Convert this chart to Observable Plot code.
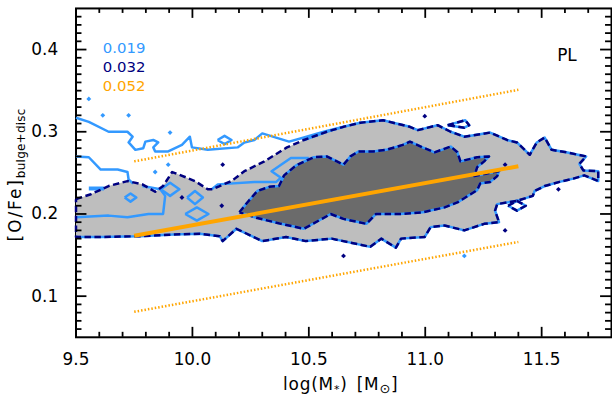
<!DOCTYPE html>
<html><head><meta charset="utf-8">
<script src="https://cdn.jsdelivr.net/npm/d3@7"></script>
<script src="https://cdn.jsdelivr.net/npm/@observablehq/plot@0.6"></script>
<style>
body{margin:0;background:#fff;}
#wrap{width:612px;height:400px;overflow:hidden;}
</style></head><body><div id="wrap"></div>
<script>
// ---- tick values ----
const xMajor = [9.5, 10.0, 10.5, 11.0, 11.5];
const xMinor = [9.6,9.7,9.8,9.9,10.1,10.2,10.3,10.4,10.6,10.7,10.8,10.9,11.1,11.2,11.3,11.4,11.6,11.7];
const yMajor = [0.1, 0.2, 0.3, 0.4];
const yMinor = d3.range(6, 45).map(d => d / 100).filter(v => Math.round(v * 100) % 10 !== 0);

// ---- contour levels & labels ----
const levelLabels = ["0.019", "0.032", "0.052"];
const panelLabel = ["PL"];

// ---- contour polygons (log M*, [O/Fe]) ----
const outerContour = [
  [9.500,0.218],[9.564,0.224],[9.640,0.234],[9.721,0.240],[9.785,0.236],[9.840,0.227],[9.874,0.234],
  [9.913,0.251],[9.968,0.245],[10.011,0.240],[10.066,0.230],[10.087,0.230],[10.117,0.234],[10.168,0.240],
  [10.223,0.252],[10.309,0.264],[10.406,0.281],[10.479,0.290],[10.577,0.300],[10.649,0.306],[10.721,0.311],
  [10.819,0.314],[10.862,0.311],[10.934,0.306],[10.968,0.302],[11.053,0.308],[11.109,0.300],[11.168,0.294],
  [11.215,0.296],[11.279,0.299],[11.351,0.290],[11.394,0.287],[11.449,0.272],[11.479,0.287],[11.513,0.293],
  [11.543,0.278],[11.606,0.275],[11.691,0.270],[11.662,0.261],[11.679,0.253],[11.743,0.252],[11.743,0.240],
  [11.683,0.247],[11.636,0.243],[11.577,0.239],[11.513,0.234],[11.470,0.228],[11.462,0.222],[11.394,0.216],
  [11.309,0.212],[11.300,0.204],[11.317,0.190],[11.253,0.188],[11.168,0.180],[11.083,0.186],[11.023,0.184],
  [10.998,0.172],[10.896,0.170],[10.874,0.159],[10.811,0.170],[10.764,0.160],[10.598,0.170],[10.487,0.167],
  [10.402,0.172],[10.300,0.167],[10.189,0.182],[10.130,0.167],[10.117,0.173],[10.032,0.176],[9.917,0.175],
  [9.777,0.173],[9.606,0.172],[9.500,0.172]
];
const innerContour = [
  [10.202,0.202],[10.236,0.214],[10.279,0.228],[10.330,0.233],[10.372,0.234],[10.394,0.247],[10.445,0.259],
  [10.521,0.269],[10.577,0.270],[10.649,0.260],[10.679,0.270],[10.713,0.276],[10.777,0.276],[10.832,0.278],
  [10.904,0.284],[10.934,0.288],[10.989,0.281],[11.040,0.275],[11.109,0.282],[11.138,0.275],[11.151,0.264],
  [11.223,0.269],[11.274,0.270],[11.253,0.264],[11.223,0.257],[11.211,0.246],[11.296,0.251],[11.317,0.252],
  [11.309,0.246],[11.279,0.239],[11.236,0.237],[11.223,0.229],[11.138,0.214],[11.083,0.208],[10.989,0.202],
  [10.891,0.200],[10.789,0.200],[10.747,0.188],[10.649,0.194],[10.594,0.200],[10.479,0.182],[10.381,0.188],
  [10.279,0.195]
];
// open 0.019 contour pieces
const blueUpper = [
  [9.500,0.317],[9.555,0.312],[9.640,0.300],[9.721,0.300],[9.743,0.294],[9.726,0.287],[9.755,0.278],
  [9.789,0.280],[9.798,0.288],[9.832,0.290],[9.853,0.287],[9.832,0.281],[9.840,0.276],[9.896,0.276],
  [9.955,0.284],[9.989,0.294],[9.998,0.281],[10.066,0.278],[10.194,0.281],[10.223,0.287],[10.266,0.290],
  [10.300,0.298],[10.415,0.288],[10.479,0.293],[10.564,0.300],[10.649,0.306]
];
const blueSecond = [
  [9.500,0.270],[9.555,0.269],[9.606,0.254],[9.679,0.254],[9.721,0.251],[9.726,0.242],[9.745,0.237]
];
const blueLeftLoop = [
  [9.500,0.196],[9.640,0.198],[9.721,0.196],[9.811,0.200],[9.874,0.200],[9.883,0.222],[9.862,0.230],[9.785,0.234]
];
const blueMiddle = [
  [10.083,0.230],[10.109,0.236],[10.266,0.239],[10.360,0.239],[10.380,0.244],[10.340,0.252],[10.423,0.268],[10.500,0.268]
];
const blueBar = [[9.555,0.231],[9.620,0.231]];
const blueLoops = [
  [[9.709,0.220],[9.734,0.225],[9.759,0.220],[9.734,0.215]],
  [[9.864,0.230],[9.904,0.238],[9.944,0.230],[9.904,0.222]],
  [[9.977,0.220],[10.011,0.228],[10.045,0.220],[10.011,0.212]],
  [[9.969,0.200],[10.019,0.208],[10.069,0.200],[10.019,0.192]],
  [[10.108,0.290],[10.138,0.295],[10.168,0.290],[10.138,0.285]]
];
const sharedLoops = [
  [[11.096,0.308],[11.172,0.314],[11.189,0.308],[11.168,0.305]],
  [[11.356,0.210],[11.394,0.216],[11.432,0.210],[11.394,0.204]]
];
const navyDots = [
  [10.130,0.260],[10.998,0.319],[10.649,0.149],[11.343,0.260],[11.572,0.230],[11.343,0.180],
  [9.955,0.220],[10.126,0.210]
];
const blueDots = [
  [9.555,0.340],[9.615,0.320],[9.726,0.320],[9.904,0.299],[9.896,0.260],[9.840,0.251],[11.168,0.149]
];
// ---- fit lines ----
const fitX = [9.75, 11.4];
const fitMid = [0.1735, 0.258];
const fitHigh = [0.264, 0.351];
const fitLow = [0.081, 0.166];

// ---- styles ----
const LBLUE = "#3399ff", NAVY = "#000080", ORANGE = "#ffa500", LGRAY = "#bebebe", DGRAY = "#6b6b6b";
const FONT = "DejaVu Sans";
const W = 616, H = 400, ML = 76, MR = 1, MT = 8, MB = 61;
const FW = W - ML - MR, FH = H - MT - MB;

const closed = p => [...p, p[0]];
const ln = (data, o) => Plot.line(data, {x: d => d[0], y: d => d[1], strokeLinejoin: "round", strokeLinecap: "butt", ...o});
const fitData = ys => fitX.map((x, i) => [x, ys[i]]);
const blueStart = outerContour.findIndex(p => p[0] >= 10.47 && p[1] >= 0.285);
const DASH = {stroke: NAVY, strokeWidth: 2.5, strokeDasharray: "6.5,3.5"};
const TK = {stroke: "black", strokeWidth: 1.8};

const marks = [
  Plot.frame({stroke: "black", strokeWidth: 2}),
  ln(closed(outerContour), {fill: LGRAY, stroke: "none"}),
  ln(closed(innerContour), {fill: DGRAY, stroke: "none"}),
  ln(blueUpper, {stroke: LBLUE, strokeWidth: 2.5}),
  ln(blueSecond, {stroke: LBLUE, strokeWidth: 2.5}),
  ln(blueLeftLoop, {stroke: LBLUE, strokeWidth: 2.5}),
  ln(blueMiddle, {stroke: LBLUE, strokeWidth: 2.5}),
  ln(blueBar, {stroke: LBLUE, strokeWidth: 4}),
  ...blueLoops.map(p => ln(closed(p), {stroke: LBLUE, strokeWidth: 2.5})),
  ln(outerContour.slice(blueStart), {stroke: LBLUE, strokeWidth: 2.5}),
  ln(closed(innerContour), {stroke: LBLUE, strokeWidth: 2.5}),
  ...sharedLoops.map(p => ln(closed(p), {stroke: LBLUE, strokeWidth: 2.5})),
  ln(closed(outerContour), DASH),
  ln(closed(innerContour), DASH),
  ...sharedLoops.map(p => ln(closed(p), DASH)),
  Plot.dot(navyDots, {x: d => d[0], y: d => d[1], symbol: "diamond2", r: 2.2, fill: NAVY, stroke: "none"}),
  Plot.dot(blueDots, {x: d => d[0], y: d => d[1], symbol: "diamond2", r: 2.2, fill: LBLUE, stroke: "none"}),
  ln(fitData(fitHigh), {stroke: ORANGE, strokeWidth: 2.5, strokeDasharray: "1.5,2"}),
  ln(fitData(fitLow), {stroke: ORANGE, strokeWidth: 2.5, strokeDasharray: "1.5,2"}),
  ln(fitData(fitMid), {stroke: ORANGE, strokeWidth: 4}),
  // inward ticks on all four sides
  Plot.ruleX(xMajor, {x: d => d, insetTop: FH - 10, ...TK}),
  Plot.ruleX(xMinor, {x: d => d, insetTop: FH - 5, ...TK}),
  Plot.ruleX(xMajor, {x: d => d, insetBottom: FH - 10, ...TK}),
  Plot.ruleX(xMinor, {x: d => d, insetBottom: FH - 5, ...TK}),
  Plot.ruleY(yMajor, {y: d => d, insetRight: FW - 11, ...TK}),
  Plot.ruleY(yMinor, {y: d => d, insetRight: FW - 6, ...TK}),
  Plot.ruleY(yMajor, {y: d => d, insetLeft: FW - 11, ...TK}),
  Plot.ruleY(yMinor, {y: d => d, insetLeft: FW - 6, ...TK}),
  ...levelLabels.map((t, i) => Plot.text([t], {text: d => d, frameAnchor: "top-left", dx: 27, dy: 34 + 19 * i,
      textAnchor: "start", fontSize: 15, fill: [LBLUE, NAVY, ORANGE][i]})),
  Plot.text(panelLabel, {text: d => d, frameAnchor: "top-right", dx: -35, dy: 41, textAnchor: "end", fontSize: 17, fill: "black"})
];

const chart = Plot.plot({
  width: W, height: H,
  marginLeft: ML, marginRight: MR, marginTop: MT, marginBottom: MB,
  style: {fontFamily: FONT, fontSize: "17px", background: "white"},
  x: {domain: [9.5, 11.8], ticks: xMajor, tickSize: 0, tickPadding: 16, tickFormat: d => d.toFixed(1), label: null},
  y: {domain: [0.05, 0.45], ticks: yMajor, tickSize: 0, tickPadding: 18, tickFormat: d => d.toFixed(1), label: null},
  marks
});
document.getElementById("wrap").appendChild(chart);
const svg = d3.select(chart);

const xt = svg.append("text").attr("x", 343).attr("y", 393).attr("text-anchor", "middle")
  .attr("font-family", FONT).attr("font-size", 17).attr("letter-spacing", "0.8px").attr("fill", "black");
xt.append("tspan").text("log(M");
xt.append("tspan").attr("font-size", 11).attr("dy", 3).text("*");
xt.append("tspan").attr("dy", -3).text(")\u2002[M");
xt.append("tspan").attr("font-size", 13).attr("dy", 3).text("\u2299");
xt.append("tspan").attr("dy", -3).text("]");

const yt = svg.append("text").attr("transform", "translate(21,176) rotate(-90)").attr("text-anchor", "middle")
  .attr("font-family", FONT).attr("font-size", 17).attr("fill", "black");
yt.append("tspan").attr("letter-spacing", "2px").text("[O/Fe]");
yt.append("tspan").attr("font-size", 12).attr("dy", 4).attr("letter-spacing", "0.3px").text("bulge+disc");
</script>
</body></html>
